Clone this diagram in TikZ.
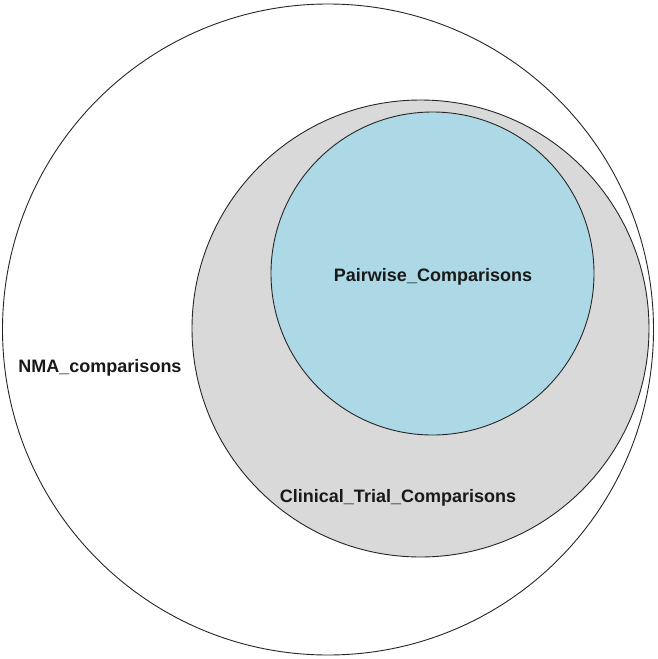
\documentclass[tikz,border=0pt]{standalone}
\usepackage{fontspec}
\setmainfont{Liberation Sans}
\begin{document}
\begin{tikzpicture}[x=1pt,y=-1pt,
  circ/.style={draw=black!85,line width=0.9pt},
  lbl/.style={font=\fontsize{18}{20}\selectfont\bfseries,text=black!90,anchor=base,inner sep=0pt}]
\useasboundingbox (0,0) rectangle (657,659);
\draw[circ,fill=white] (328,329.5) circle[radius=325.5];
\draw[circ,fill={rgb,255:red,217;green,217;blue,217}] (420.5,328.5) circle[radius=228.5];
\draw[circ,fill={rgb,255:red,173;green,216;blue,230}] (432.5,273.5) circle[radius=161.5];
\node[lbl] (nma) at (100,372) {NMA\_comparisons};
\node[lbl] (pw) at (433,281) {Pairwise\_Comparisons};
\node[lbl] (ct) at (398,502) {Clinical\_Trial\_Comparisons};
\end{tikzpicture}
\end{document}
